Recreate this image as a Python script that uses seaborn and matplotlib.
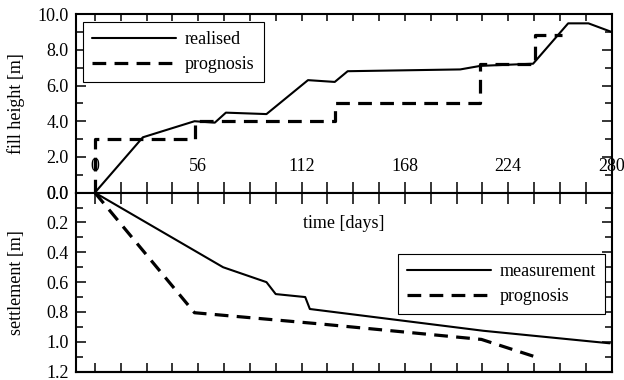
import matplotlib
matplotlib.use("Agg")
import matplotlib.pyplot as plt
import numpy as np
import pandas as pd
import seaborn as sns
from matplotlib.ticker import MultipleLocator, FormatStrFormatter

# ---------------- data ----------------
fill_days_real = [0, 26, 54, 65, 71, 93, 115.5, 130, 137, 198, 209, 237.5, 256.5, 267.5, 280]
fill_real = [0.0, 3.1, 4.0, 3.92, 4.48, 4.4, 6.3, 6.2, 6.8, 6.9, 7.1, 7.22, 9.48, 9.48, 9.0]

fill_days_prog = [0, 0, 54, 130, 208.5, 238.5, 253]
fill_prog = [0.0, 3.0, 4.0, 5.0, 7.2, 8.8, 8.8]

settle_days_meas = [0, 69.5, 93, 98, 114, 116.5, 210.5, 279]
settle_meas = [0.0, 0.50, 0.60, 0.68, 0.70, 0.78, 0.926, 1.01]

settle_days_prog = [0, 54, 122, 209.5, 238.5]
settle_prog = [0.0, 0.805, 0.88, 0.984, 1.10]

x_major_ticks = [0, 56, 112, 168, 224, 280]

# ---------------- style ----------------
sns.set_style("ticks", rc={
    "axes.edgecolor": "black",
    "text.color": "black",
    "axes.labelcolor": "black",
    "xtick.color": "black",
    "ytick.color": "black",
})
plt.rcParams["font.family"] = ["Liberation Serif", "DejaVu Serif"]
plt.rcParams["font.size"] = 13

FS = 13
fig = plt.figure(figsize=(6.24, 3.80), dpi=100)
ax1 = fig.add_axes([0.121, 0.493, 0.859, 0.470])
ax2 = fig.add_axes([0.121, 0.022, 0.859, 0.471], sharex=ax1)

df_fr = pd.DataFrame({"day": fill_days_real, "h": fill_real})
df_fp = pd.DataFrame({"day": fill_days_prog, "h": fill_prog})
df_sm = pd.DataFrame({"day": settle_days_meas, "s": settle_meas})
df_sp = pd.DataFrame({"day": settle_days_prog, "s": settle_prog})

solid_lw = 1.5
dash_lw = 2.3
dash_pat = (4.3, 2.6)

sns.lineplot(data=df_fr, x="day", y="h", ax=ax1, color="black", lw=solid_lw,
             sort=False, estimator=None, label="realised")
sns.lineplot(data=df_fp, x="day", y="h", ax=ax1, color="black", lw=dash_lw,
             sort=False, estimator=None, drawstyle="steps-post",
             dashes=False, label="prognosis")
ax1.get_lines()[1].set_dashes(dash_pat)

sns.lineplot(data=df_sm, x="day", y="s", ax=ax2, color="black", lw=solid_lw,
             sort=False, estimator=None, label="measurement")
sns.lineplot(data=df_sp, x="day", y="s", ax=ax2, color="black", lw=dash_lw,
             sort=False, estimator=None, label="prognosis")
ax2.get_lines()[1].set_dashes(dash_pat)

# ---------------- axes ----------------
ax1.set_xlim(-10.5, 280)
ax1.set_ylim(0, 10)
ax2.set_ylim(1.2, 0)

for ax in (ax1, ax2):
    for sp in ax.spines.values():
        sp.set_linewidth(1.5)
        sp.set_visible(True)
    ax.xaxis.set_major_locator(MultipleLocator(56))
    ax.xaxis.set_minor_locator(MultipleLocator(14))
    ax.yaxis.set_major_formatter(FormatStrFormatter("%.1f"))
    ax.set_xlabel("")
    ax.tick_params(axis="y", which="major", direction="in", length=7.2, width=1.1,
                   left=True, right=True, labelleft=True, labelright=False,
                   labelsize=FS, pad=5)
    ax.tick_params(axis="y", which="minor", direction="in", length=5, width=1.1,
                   left=True, right=True)

ax1.yaxis.set_major_locator(MultipleLocator(2))
ax1.yaxis.set_minor_locator(MultipleLocator(1))
ax2.yaxis.set_major_locator(MultipleLocator(0.2))
ax2.yaxis.set_minor_locator(MultipleLocator(0.1))

# upper axes: ticks on top only (inward)
ax1.tick_params(axis="x", which="both", direction="in", length=5, width=1.1,
                top=True, bottom=False, labeltop=False, labelbottom=False)
# lower axes: crossing ticks on shared middle line (with labels above), inward at bottom
ax2.tick_params(axis="x", which="both", direction="inout", length=16, width=1.1,
                top=True, bottom=False, labeltop=True, labelbottom=False,
                labelsize=FS, pad=4.5)
ax2.set_xticks(x_major_ticks)
ax2.set_xticklabels([str(t) for t in x_major_ticks])
# bottom inward ticks via secondary axis
sec = ax2.secondary_xaxis("bottom")
sec.xaxis.set_major_locator(MultipleLocator(14))
sec.tick_params(axis="x", which="both", direction="in", length=6.5, width=1.1,
                labelbottom=False)
sec.spines["bottom"].set_linewidth(1.5)

ax1.set_ylabel("fill height [m]", fontsize=FS)
ax2.set_ylabel("settlement [m]", fontsize=FS)
ax1.yaxis.set_label_coords(-0.094, 0.5)
ax2.yaxis.set_label_coords(-0.094, 0.5)
ax2.text(0.5, 0.825, "time [days]", transform=ax2.transAxes,
         ha="center", va="center", fontsize=FS)

# ---------------- legends ----------------
leg_kw = dict(frameon=True, fancybox=False, framealpha=1, edgecolor="black",
              fontsize=FS, handlelength=4.65, handletextpad=0.5,
              borderpad=0.5, labelspacing=0.45, borderaxespad=0)
leg1 = ax1.legend(loc="upper left", bbox_to_anchor=(0.014, 0.955), **leg_kw)
leg1.get_frame().set_linewidth(0.8)
leg2 = ax2.legend(loc="upper left", bbox_to_anchor=(0.601, 0.658), **leg_kw)
leg2.get_frame().set_linewidth(0.8)
for leg in (leg1, leg2):
    h = leg.get_lines()
    h[0].set_linewidth(solid_lw)
    h[1].set_linewidth(dash_lw)
    h[1].set_dashes(dash_pat)

fig.savefig("out.png", dpi=100)
